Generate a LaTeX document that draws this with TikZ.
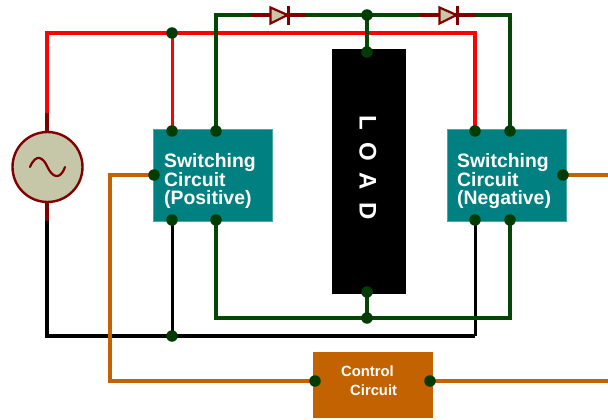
\documentclass[tikz,border=0pt]{standalone}
\usepackage{fontspec}
\setmainfont{Liberation Sans}
\definecolor{tealbox}{HTML}{008080}
\definecolor{orangebox}{HTML}{C26200}
\definecolor{wgreen}{HTML}{054505}
\definecolor{jgreen}{HTML}{033C03}
\definecolor{dred}{HTML}{800000}
\definecolor{srcfill}{HTML}{C6C6A8}
\tikzset{
 x=1pt,y=-1pt,
 tbox/.style={fill=tealbox,draw=tealbox!70!white,line width=.5pt},
 wire/.style={line width=3.9pt,line join=miter},
 thinwire/.style={line width=3pt},
 redw/.style={wire,color=red},
 blackw/.style={wire,color=black},
 greenw/.style={wire,color=wgreen},
 orangew/.style={line width=3.2pt,line join=miter,color=orangebox},
 lead/.style={line width=4pt,color=dred},
 dot/.style={circle,fill=jgreen,inner sep=0,minimum size=11.5pt},
 lbl/.style={text=white,inner sep=0,font=\bfseries\fontsize{19.4}{18}\selectfont,align=left,anchor=west},
 lbs/.style={text=white,inner sep=0,font=\bfseries\fontsize{14.8}{17}\selectfont,align=left,anchor=west},
 diodet/.style={fill=srcfill,draw=dred,line width=2.2pt,line join=miter},
}
\begin{document}
\begin{tikzpicture}
\useasboundingbox (0,0) rectangle (608,420);
% boxes
\draw[tbox] (153,129.5) rectangle (272,221.5);
\draw[tbox] (447,129.5) rectangle (566,221.5);
\fill[black] (331.5,49.5) rectangle (405.5,294);
\fill[orangebox] (313,352) rectangle (432.5,418);
\node[lbl] (pos) at (164,181) {Switching\\Circuit\\(Positive)};
\node[lbl] (neg) at (457,181) {Switching\\Circuit\\(Negative)};
\node[rotate=-90,inner sep=0,text=white,font=\bfseries\fontsize{24}{24}\selectfont] (load) at (368,167.5) {L\,\,\,O\,\,\,A\,\,\,D};
\node[lbs] (ctl1) at (341,371) {Control};
\node[lbs] (ctl2) at (350,390) {Circuit};
% junctions
\coordinate (pa) at (172,131); \coordinate (pb) at (216,131);
\coordinate (pc) at (172,220); \coordinate (pd) at (216,220);
\coordinate (na) at (475,131); \coordinate (nb) at (510,131);
\coordinate (nc) at (475,220); \coordinate (nd) at (510,220);
\coordinate (rj) at (172,33); \coordinate (gj) at (367,15);
\coordinate (lt) at (367,52); \coordinate (lb) at (367,292);
\coordinate (gb) at (367,318); \coordinate (bj) at (172,336);
\coordinate (pctl) at (154,175); \coordinate (nctl) at (563,175);
\coordinate (cl) at (315,381); \coordinate (cr) at (430,381);
\coordinate (srct) at (47,113); \coordinate (srcb) at (47,221);
% wires
\draw[redw] (srct) -- (47,33) -- (rj) -- (475,33) -- (na);
\draw[red,thinwire] (rj) -- (pa);
\draw[blackw] (srcb) -- (47,336) -- (bj) -- (475,336);
\draw[black,thinwire] (475,336) -- (nc);
\draw[black,thinwire] (bj) -- (pc);
\draw[greenw] (pb) -- (216,15) -- (252,15);
\draw[greenw] (306,15) -- (420,15);
\draw[greenw] (476,15) -- (510,15) -- (nb);
\draw[greenw] (gj) -- (lt);
\draw[wgreen,line width=3.2pt,line join=miter] (pd) -- (216,318) -- (gb) -- (510,318) -- (nd);
\draw[greenw] (gb) -- (lb);
\draw[orangew] (pctl) -- (110,175) -- (110,381) -- (cl);
\draw[orangew] (cr) -- (608,381);
\draw[orangew] (nctl) -- (608,175);
% diodes
\foreach \a/\b in {252/306,420/476}{\draw[lead] (\a,15) -- (\b,15);}
\draw[diodet] (270.5,7.5) -- (287.5,15) -- (270.5,23.5) -- cycle;
\draw[dred,line width=3pt] (288.5,6) -- (288.5,25);
\draw[diodet] (439.5,7.5) -- (456.5,15) -- (439.5,23.5) -- cycle;
\draw[dred,line width=3pt] (457.5,6) -- (457.5,25);
% source
\draw[lead] (srct) -- (47,132);
\draw[lead] (47,202) -- (srcb);
\node[circle,fill=srcfill,draw=dred,line width=2.4pt,minimum size=70pt,inner sep=0] (src) at (47.5,167) {};
\draw[dred,line width=2.2pt,line cap=round] (30,167) .. controls (36,153) and (43,157) .. (47.5,167) .. controls (52,177) and (60,181) .. (65,167);
% dots
\foreach \p in {pa,pb,pc,pd,na,nb,nc,nd,rj,gj,lt,lb,gb,bj,pctl,nctl,cl,cr}{\node[dot] at (\p) {};}
\end{tikzpicture}
\end{document}
